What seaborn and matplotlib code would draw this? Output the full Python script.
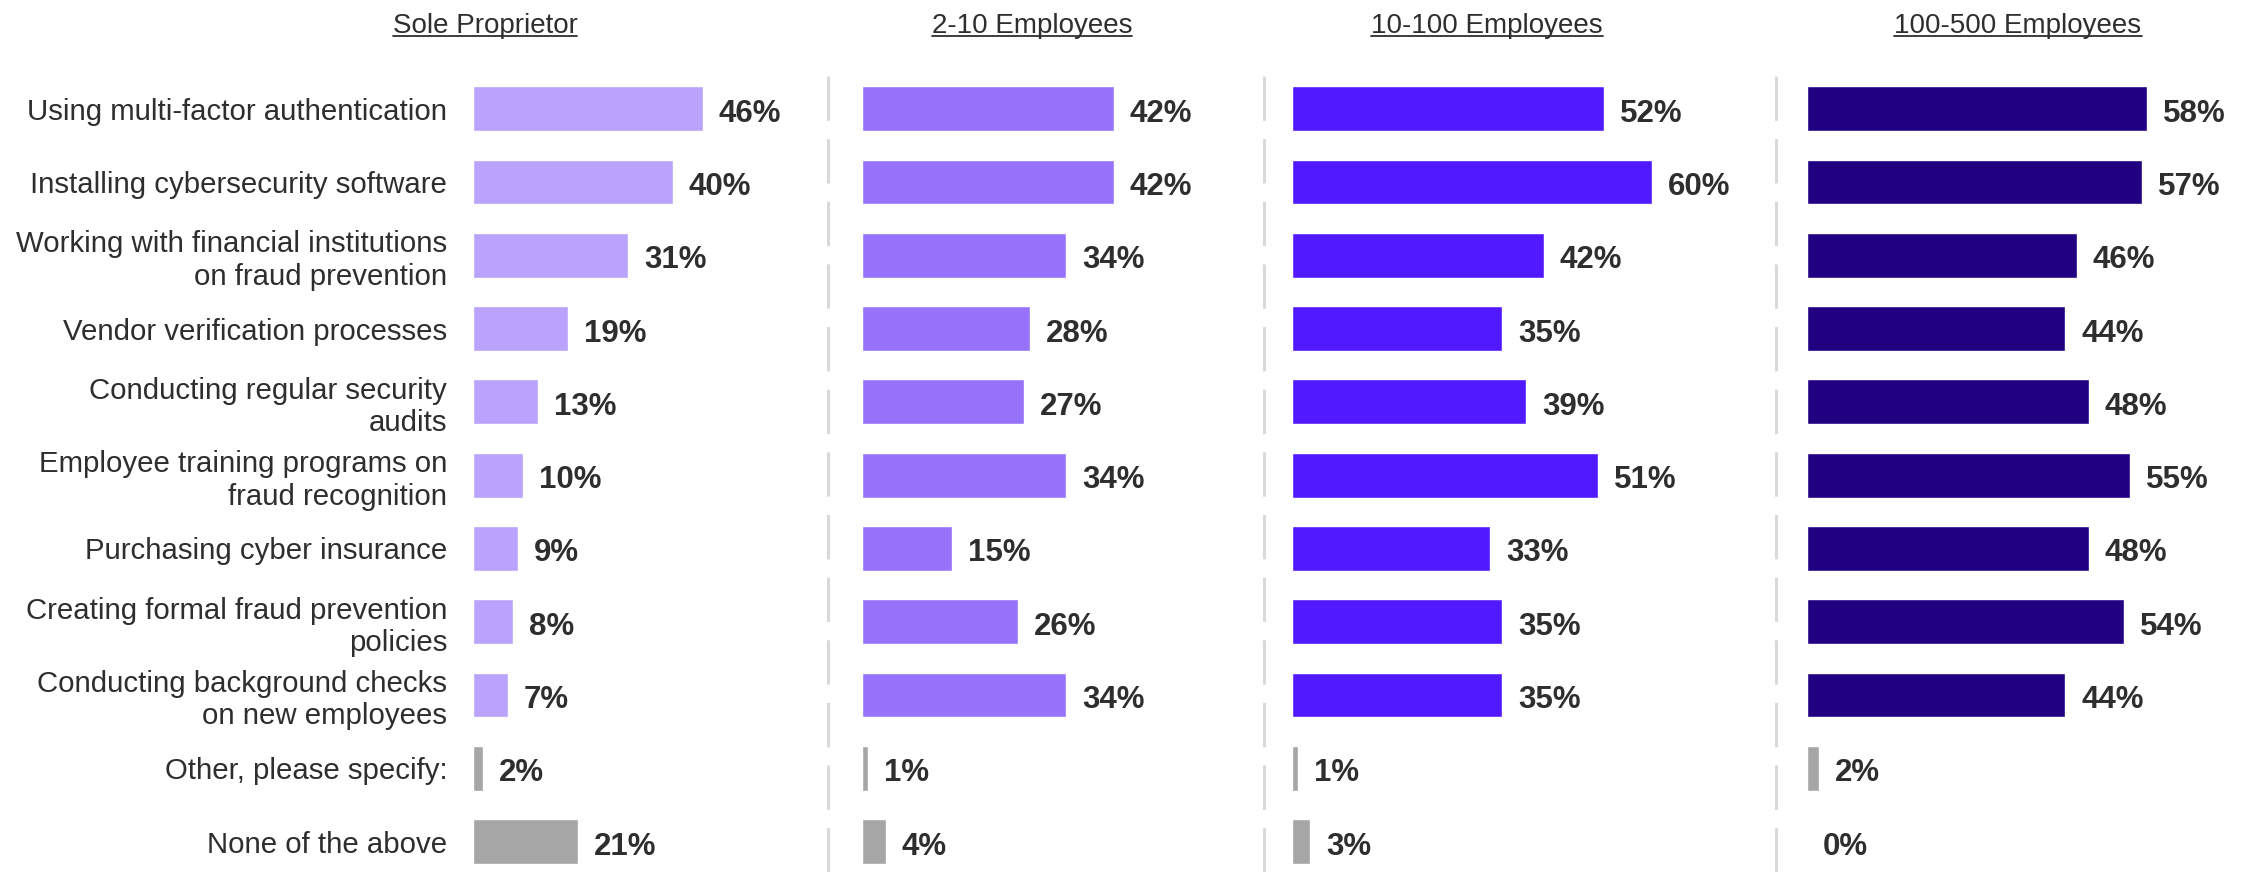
import numpy as np
import pandas as pd
import matplotlib
matplotlib.use("Agg")
import matplotlib.pyplot as plt
from matplotlib.lines import Line2D
import seaborn as sns

# data
categories = [
    "Using multi-factor authentication",
    "Installing cybersecurity software",
    "Working with financial institutions\non fraud prevention",
    "Vendor verification processes",
    "Conducting regular security\naudits",
    "Employee training programs on\nfraud recognition",
    "Purchasing cyber insurance",
    "Creating formal fraud prevention\npolicies",
    "Conducting background checks\non new employees",
    "Other, please specify:",
    "None of the above",
]
groups = ["Sole Proprietor", "2-10 Employees", "10-100 Employees", "100-500 Employees"]
sole_prop = [46, 40, 31, 19, 13, 10, 9, 8, 7, 2, 21]
emp_2_10 = [42, 42, 34, 28, 27, 34, 15, 26, 34, 1, 4]
emp_10_100 = [52, 60, 42, 35, 39, 51, 33, 35, 35, 1, 3]
emp_100_500 = [58, 57, 46, 44, 48, 55, 48, 54, 44, 2, 0]
series = [sole_prop, emp_2_10, emp_10_100, emp_100_500]

panel_colors = ["#B9A3FC", "#9673FA", "#5119FF", "#220082"]
gray = "#A6A6A6"
text_col = "#2E2E2E"

sns.set_style("white")
plt.rcParams["font.family"] = ["Liberation Sans", "DejaVu Sans"]

W, H = 2254, 872
fig = plt.figure(figsize=(W / 100, H / 100), dpi=100)

# layout in pixels
bar_left = [473, 862, 1292, 1807]
px_per_pct = [5.0, 6.0, 6.0, 5.87]
header_cx = [485, 1032, 1487, 2018]
seps = [828, 1264, 1776]
top_px = 72
row_px = 73.3
xmax = 65

headers = []
for k in range(4):
    width_px = xmax * px_per_pct[k]
    ax = fig.add_axes([bar_left[k] / W, 0, width_px / W, (H - top_px) / H])
    df = pd.DataFrame({"cat": categories, "val": series[k]})
    pal = {c: (gray if i >= 9 else panel_colors[k]) for i, c in enumerate(categories)}
    sns.barplot(data=df, x="val", y="cat", hue="cat", palette=pal, legend=False,
                width=0.61, ax=ax, saturation=1)
    ax.set_xlim(0, xmax)
    ax.set_ylim(-0.5 + (H - top_px) / row_px, -0.5)
    for s in ax.spines.values():
        s.set_visible(False)
    ax.set_xticks([])
    ax.set_xlabel("")
    ax.set_ylabel("")
    if k == 0:
        ax.tick_params(axis="y", length=0, pad=18.7, labelsize=21.2, labelcolor=text_col)
    else:
        ax.set_yticks([])
    for i, v in enumerate(series[k]):
        ax.annotate(f"{v}%", (v, i), xytext=(11.5, -3.6), textcoords="offset points",
                    ha="left", va="center", fontsize=22.5, fontweight="bold",
                    color=text_col)
    t = fig.text(header_cx[k] / W, 1 - 33 / H, groups[k], ha="center",
                 va="baseline", fontsize=20, color=text_col)
    headers.append(t)

# dashed separators
for x in seps:
    fig.add_artist(Line2D([x / W, x / W], [0, 1 - top_px / H], transform=fig.transFigure,
                          color="#D9D9D9", linewidth=2.2,
                          linestyle=(0, (14.5, 6))))

# underline the headers
fig.canvas.draw()
r = fig.canvas.get_renderer()
for t in headers:
    bb = t.get_window_extent(r)
    y = (H - 36.5) / H
    fig.add_artist(Line2D([bb.x0 / W, bb.x1 / W], [y, y], transform=fig.transFigure,
                          color=text_col, linewidth=1.3))

fig.savefig("out.png", dpi=100)
